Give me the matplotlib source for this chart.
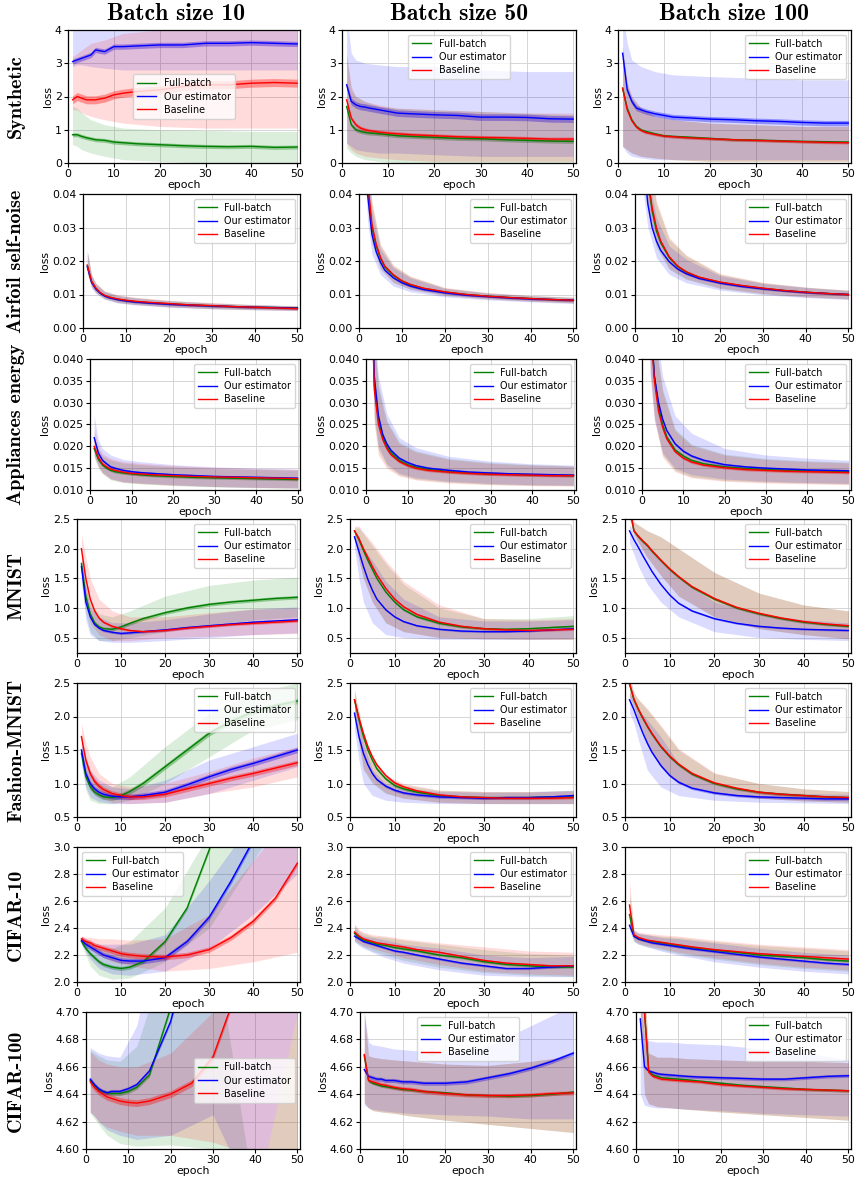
#!/usr/bin/env python3
"""Loss curves: full-batch vs our estimator vs baseline, 7 datasets x 3 batch sizes."""

import matplotlib
matplotlib.use("Agg")
import matplotlib.pyplot as plt
from matplotlib.ticker import FormatStrFormatter
import numpy as np

GREEN = "green"
BLUE = "blue"
RED = "red"

BATCH_SIZES = [10, 50, 100]
DATASETS = ["Synthetic", "Airfoil self-noise", "Appliances energy", "MNIST",
            "Fashion-MNIST", "CIFAR-10", "CIFAR-100"]
PREFIXES = ["SYN", "AIR", "APP", "MNI", "FAS", "C10", "C100"]
SERIES_LABELS = ["Full-batch", "Our estimator", "Baseline"]

# epochs where the mean curves were read, and (coarser) where the spread was read
E = [1, 2, 3, 4, 5, 6, 8, 10, 12, 15, 20, 25, 30, 35, 40, 45, 50]
EB = [1, 2, 3, 5, 8, 12, 20, 30, 40, 50]

# ---------------- Synthetic ----------------
SYN10_FULL = [0.85, 0.85, 0.80, 0.76, 0.73, 0.70, 0.68, 0.63, 0.61, 0.58, 0.55, 0.52, 0.50, 0.49, 0.50, 0.47, 0.48]
SYN10_FULL_LO = [0.55, 0.50, 0.40, 0.30, 0.20, 0.10, 0.05, 0.0, 0.0, 0.0]
SYN10_FULL_HI = [1.70, 1.65, 1.50, 1.30, 1.15, 1.05, 1.00, 0.98, 0.95, 0.95]
SYN10_OURS = [3.05, 3.10, 3.15, 3.20, 3.25, 3.40, 3.35, 3.50, 3.50, 3.52, 3.55, 3.55, 3.60, 3.60, 3.62, 3.60, 3.58]
SYN10_OURS_LO = [2.90, 2.95, 2.95, 2.90, 2.85, 2.80, 2.80, 2.80, 2.80, 2.80]
SYN10_OURS_HI = [4.5, 4.5, 4.5, 4.5, 4.5, 4.5, 4.5, 4.5, 4.5, 4.5]
SYN10_BASE = [1.90, 2.00, 1.95, 1.90, 1.90, 1.90, 1.95, 2.05, 2.10, 2.15, 2.20, 2.30, 2.35, 2.35, 2.40, 2.42, 2.40]
SYN10_BASE_LO = [1.60, 1.60, 1.50, 1.40, 1.30, 1.20, 1.10, 1.05, 1.05, 1.05]
SYN10_BASE_HI = [3.20, 3.30, 3.40, 3.60, 3.70, 3.90, 4.00, 4.10, 4.10, 4.10]
SYN10_W = [0.06, 0.08, 0.12]

SYN50_FULL = [1.70, 1.15, 1.00, 0.95, 0.92, 0.90, 0.88, 0.85, 0.82, 0.80, 0.77, 0.74, 0.73, 0.70, 0.68, 0.66, 0.65]
SYN50_FULL_LO = [0.45, 0.30, 0.20, 0.10, 0.05, 0.0, 0.0, 0.0, 0.0, 0.0]
SYN50_FULL_HI = [3.20, 2.20, 2.00, 1.85, 1.70, 1.65, 1.60, 1.55, 1.50, 1.45]
SYN50_OURS = [2.35, 1.85, 1.75, 1.70, 1.68, 1.65, 1.60, 1.55, 1.50, 1.48, 1.45, 1.43, 1.38, 1.38, 1.37, 1.33, 1.32]
SYN50_OURS_LO = [0.60, 0.50, 0.40, 0.35, 0.30, 0.30, 0.25, 0.20, 0.20, 0.20]
SYN50_OURS_HI = [4.50, 3.30, 3.10, 3.00, 2.95, 2.90, 2.90, 2.80, 2.75, 2.75]
SYN50_BASE = [1.90, 1.35, 1.15, 1.05, 1.00, 0.97, 0.93, 0.90, 0.88, 0.85, 0.82, 0.79, 0.77, 0.76, 0.74, 0.72, 0.72]
SYN50_BASE_LO = [0.60, 0.40, 0.30, 0.20, 0.15, 0.10, 0.05, 0.05, 0.05, 0.05]
SYN50_BASE_HI = [3.30, 2.30, 2.00, 1.85, 1.75, 1.65, 1.60, 1.55, 1.50, 1.50]
SYN50_W = [0.06, 0.10, 0.06]

SYN100_FULL = [2.25, 1.65, 1.30, 1.10, 1.00, 0.95, 0.88, 0.82, 0.80, 0.78, 0.74, 0.70, 0.69, 0.67, 0.65, 0.64, 0.63]
SYN100_FULL_LO = [0.50, 0.40, 0.30, 0.20, 0.15, 0.10, 0.05, 0.05, 0.05, 0.05]
SYN100_FULL_HI = [3.50, 2.40, 2.00, 1.65, 1.40, 1.30, 1.20, 1.15, 1.10, 1.10]
SYN100_OURS = [3.30, 2.20, 1.85, 1.65, 1.60, 1.55, 1.48, 1.43, 1.38, 1.36, 1.32, 1.30, 1.27, 1.25, 1.22, 1.20, 1.20]
SYN100_OURS_LO = [0.50, 0.30, 0.20, 0.15, 0.10, 0.10, 0.10, 0.10, 0.10, 0.10]
SYN100_OURS_HI = [4.50, 3.60, 3.10, 2.90, 2.75, 2.65, 2.60, 2.55, 2.50, 2.50]
SYN100_BASE = [2.25, 1.60, 1.27, 1.08, 0.98, 0.92, 0.86, 0.81, 0.79, 0.76, 0.73, 0.70, 0.68, 0.66, 0.64, 0.62, 0.61]
SYN100_BASE_LO = [0.50, 0.40, 0.30, 0.20, 0.15, 0.10, 0.05, 0.05, 0.05, 0.05]
SYN100_BASE_HI = [3.40, 2.40, 2.00, 1.65, 1.40, 1.30, 1.20, 1.15, 1.10, 1.10]
SYN100_W = [0.04, 0.08, 0.04]

# ---------------- Airfoil self-noise ----------------
AIR10_FULL = [0.0185, 0.0138, 0.0118, 0.0105, 0.0097, 0.0092, 0.0086, 0.0082, 0.0079, 0.0076, 0.0072, 0.0069, 0.0066, 0.0064, 0.0062, 0.0061, 0.0060]
AIR10_FULL_LO = [0.0165, 0.0122, 0.0105, 0.0087, 0.0076, 0.0070, 0.0063, 0.0058, 0.0055, 0.0053]
AIR10_FULL_HI = [0.0230, 0.0158, 0.0133, 0.0110, 0.0098, 0.0091, 0.0082, 0.0075, 0.0070, 0.0067]
AIR10_OURS = [0.0183, 0.0136, 0.0116, 0.0104, 0.0096, 0.0091, 0.0085, 0.0081, 0.0078, 0.0075, 0.0071, 0.0068, 0.0066, 0.0064, 0.0062, 0.0061, 0.0059]
AIR10_OURS_LO = [0.0163, 0.0120, 0.0103, 0.0086, 0.0075, 0.0069, 0.0062, 0.0057, 0.0054, 0.0052]
AIR10_OURS_HI = [0.0228, 0.0156, 0.0131, 0.0109, 0.0097, 0.0090, 0.0081, 0.0074, 0.0069, 0.0066]
AIR10_BASE = [0.0188, 0.0140, 0.0119, 0.0106, 0.0098, 0.0093, 0.0087, 0.0083, 0.0080, 0.0077, 0.0073, 0.0069, 0.0067, 0.0064, 0.0062, 0.0060, 0.0058]
AIR10_BASE_LO = [0.0166, 0.0123, 0.0106, 0.0088, 0.0077, 0.0071, 0.0063, 0.0058, 0.0055, 0.0052]
AIR10_BASE_HI = [0.0232, 0.0160, 0.0135, 0.0111, 0.0099, 0.0092, 0.0083, 0.0076, 0.0070, 0.0066]
AIR10_W = [0.0003, 0.0003, 0.0003]

AIR50_FULL = [0.070, 0.043, 0.030, 0.0245, 0.0208, 0.0182, 0.0157, 0.0140, 0.0129, 0.0118, 0.0107, 0.0100, 0.0095, 0.0091, 0.0088, 0.0085, 0.0083]
AIR50_FULL_LO = [0.060, 0.036, 0.025, 0.0175, 0.0135, 0.0115, 0.0097, 0.0087, 0.0080, 0.0075]
AIR50_FULL_HI = [0.085, 0.052, 0.037, 0.0245, 0.0185, 0.0153, 0.0120, 0.0105, 0.0097, 0.0092]
AIR50_OURS = [0.065, 0.040, 0.028, 0.0228, 0.0196, 0.0173, 0.0150, 0.0135, 0.0125, 0.0115, 0.0105, 0.0098, 0.0094, 0.0090, 0.0087, 0.0085, 0.0083]
AIR50_OURS_LO = [0.055, 0.032, 0.022, 0.0160, 0.0125, 0.0108, 0.0093, 0.0084, 0.0078, 0.0073]
AIR50_OURS_HI = [0.080, 0.049, 0.035, 0.0235, 0.0180, 0.0150, 0.0118, 0.0104, 0.0096, 0.0091]
AIR50_BASE = [0.072, 0.044, 0.031, 0.0250, 0.0211, 0.0185, 0.0159, 0.0141, 0.0130, 0.0119, 0.0108, 0.0100, 0.0095, 0.0091, 0.0088, 0.0085, 0.0083]
AIR50_BASE_LO = [0.061, 0.037, 0.026, 0.0178, 0.0137, 0.0116, 0.0098, 0.0087, 0.0080, 0.0075]
AIR50_BASE_HI = [0.087, 0.053, 0.038, 0.0250, 0.0188, 0.0155, 0.0121, 0.0106, 0.0097, 0.0092]
AIR50_W = [0.0003, 0.0003, 0.0003]

AIR100_FULL = [0.100, 0.060, 0.044, 0.035, 0.029, 0.0255, 0.0210, 0.0183, 0.0167, 0.0151, 0.0136, 0.0126, 0.0118, 0.0112, 0.0107, 0.0103, 0.0100]
AIR100_FULL_LO = [0.085, 0.050, 0.036, 0.024, 0.0175, 0.0145, 0.0118, 0.0102, 0.0093, 0.0087]
AIR100_FULL_HI = [0.120, 0.072, 0.054, 0.037, 0.0265, 0.0215, 0.0160, 0.0135, 0.0122, 0.0113]
AIR100_OURS = [0.085, 0.050, 0.037, 0.030, 0.026, 0.0232, 0.0198, 0.0176, 0.0162, 0.0148, 0.0134, 0.0124, 0.0117, 0.0111, 0.0106, 0.0103, 0.0100]
AIR100_OURS_LO = [0.070, 0.040, 0.030, 0.021, 0.0160, 0.0135, 0.0113, 0.0099, 0.0091, 0.0085]
AIR100_OURS_HI = [0.105, 0.062, 0.046, 0.033, 0.0245, 0.0205, 0.0156, 0.0133, 0.0121, 0.0112]
AIR100_BASE = [0.105, 0.062, 0.045, 0.036, 0.030, 0.0260, 0.0213, 0.0185, 0.0168, 0.0152, 0.0137, 0.0127, 0.0119, 0.0112, 0.0107, 0.0103, 0.0100]
AIR100_BASE_LO = [0.088, 0.051, 0.037, 0.025, 0.0178, 0.0147, 0.0119, 0.0103, 0.0093, 0.0087]
AIR100_BASE_HI = [0.125, 0.074, 0.055, 0.038, 0.0270, 0.0218, 0.0162, 0.0136, 0.0122, 0.0113]
AIR100_W = [0.0003, 0.0003, 0.0003]

# ---------------- Appliances energy ----------------
APP10_FULL = [0.0195, 0.0170, 0.0157, 0.0150, 0.0145, 0.0142, 0.0139, 0.0137, 0.0135, 0.0133, 0.0131, 0.0129, 0.0128, 0.0127, 0.0126, 0.0125, 0.0124]
APP10_FULL_LO = [0.0175, 0.0150, 0.0137, 0.0123, 0.0117, 0.0114, 0.0110, 0.0107, 0.0105, 0.0104]
APP10_FULL_HI = [0.0215, 0.0192, 0.0178, 0.0168, 0.0162, 0.0158, 0.0153, 0.0149, 0.0147, 0.0145]
APP10_OURS = [0.0220, 0.0185, 0.0168, 0.0160, 0.0153, 0.0150, 0.0145, 0.0142, 0.0140, 0.0138, 0.0135, 0.0133, 0.0131, 0.0130, 0.0129, 0.0128, 0.0127]
APP10_OURS_LO = [0.0180, 0.0155, 0.0140, 0.0126, 0.0119, 0.0116, 0.0112, 0.0108, 0.0106, 0.0105]
APP10_OURS_HI = [0.0270, 0.0215, 0.0195, 0.0180, 0.0170, 0.0165, 0.0158, 0.0153, 0.0150, 0.0148]
APP10_BASE = [0.0200, 0.0175, 0.0160, 0.0153, 0.0148, 0.0145, 0.0141, 0.0138, 0.0137, 0.0135, 0.0133, 0.0131, 0.0130, 0.0129, 0.0128, 0.0127, 0.0126]
APP10_BASE_LO = [0.0178, 0.0153, 0.0139, 0.0125, 0.0118, 0.0115, 0.0111, 0.0108, 0.0106, 0.0104]
APP10_BASE_HI = [0.0240, 0.0200, 0.0183, 0.0172, 0.0165, 0.0161, 0.0156, 0.0152, 0.0149, 0.0147]
APP10_W = [0.0003, 0.0003, 0.0003]

APP50_FULL = [0.070, 0.034, 0.026, 0.0222, 0.0200, 0.0185, 0.0168, 0.0158, 0.0152, 0.0147, 0.0142, 0.0139, 0.0137, 0.0136, 0.0135, 0.0134, 0.0133]
APP50_FULL_LO = [0.060, 0.026, 0.019, 0.0155, 0.0135, 0.0125, 0.0118, 0.0113, 0.0111, 0.0110]
APP50_FULL_HI = [0.085, 0.045, 0.034, 0.0260, 0.0210, 0.0190, 0.0172, 0.0163, 0.0158, 0.0155]
APP50_OURS = [0.072, 0.036, 0.027, 0.0228, 0.0206, 0.0191, 0.0173, 0.0163, 0.0156, 0.0150, 0.0145, 0.0141, 0.0139, 0.0137, 0.0136, 0.0135, 0.0134]
APP50_OURS_LO = [0.060, 0.027, 0.020, 0.0160, 0.0138, 0.0128, 0.0120, 0.0115, 0.0112, 0.0111]
APP50_OURS_HI = [0.088, 0.047, 0.036, 0.0275, 0.0220, 0.0197, 0.0177, 0.0166, 0.0160, 0.0157]
APP50_BASE = [0.068, 0.033, 0.025, 0.0216, 0.0195, 0.0181, 0.0165, 0.0156, 0.0150, 0.0145, 0.0141, 0.0138, 0.0136, 0.0135, 0.0134, 0.0133, 0.0133]
APP50_BASE_LO = [0.058, 0.025, 0.018, 0.0150, 0.0132, 0.0123, 0.0116, 0.0112, 0.0110, 0.0109]
APP50_BASE_HI = [0.083, 0.044, 0.033, 0.0255, 0.0206, 0.0187, 0.0170, 0.0161, 0.0157, 0.0154]
APP50_W = [0.0003, 0.0003, 0.0003]

APP100_FULL = [0.100, 0.050, 0.036, 0.029, 0.0250, 0.0222, 0.0192, 0.0178, 0.0168, 0.0160, 0.0153, 0.0149, 0.0147, 0.0145, 0.0144, 0.0143, 0.0142]
APP100_FULL_LO = [0.080, 0.038, 0.027, 0.0180, 0.0145, 0.0130, 0.0122, 0.0118, 0.0116, 0.0114]
APP100_FULL_HI = [0.120, 0.062, 0.046, 0.0330, 0.0240, 0.0205, 0.0182, 0.0172, 0.0167, 0.0164]
APP100_OURS = [0.095, 0.050, 0.036, 0.030, 0.0262, 0.0236, 0.0206, 0.0189, 0.0178, 0.0168, 0.0158, 0.0153, 0.0150, 0.0148, 0.0146, 0.0145, 0.0144]
APP100_OURS_LO = [0.075, 0.036, 0.026, 0.0185, 0.0150, 0.0135, 0.0125, 0.0120, 0.0117, 0.0115]
APP100_OURS_HI = [0.120, 0.065, 0.050, 0.0360, 0.0270, 0.0230, 0.0195, 0.0180, 0.0173, 0.0168]
APP100_BASE = [0.100, 0.049, 0.035, 0.028, 0.0243, 0.0217, 0.0188, 0.0173, 0.0164, 0.0157, 0.0151, 0.0147, 0.0145, 0.0143, 0.0142, 0.0141, 0.0140]
APP100_BASE_LO = [0.080, 0.037, 0.026, 0.0175, 0.0142, 0.0128, 0.0120, 0.0116, 0.0114, 0.0112]
APP100_BASE_HI = [0.120, 0.061, 0.045, 0.0325, 0.0236, 0.0202, 0.0180, 0.0170, 0.0165, 0.0162]
APP100_W = [0.0003, 0.0003, 0.0003]

# ---------------- MNIST ----------------
MNI10_FULL = [1.75, 1.20, 0.90, 0.75, 0.68, 0.65, 0.64, 0.68, 0.74, 0.82, 0.92, 1.00, 1.06, 1.10, 1.13, 1.16, 1.18]
MNI10_FULL_LO = [1.40, 0.90, 0.60, 0.45, 0.45, 0.50, 0.60, 0.70, 0.80, 0.85]
MNI10_FULL_HI = [1.90, 1.40, 1.10, 0.90, 0.85, 0.95, 1.20, 1.38, 1.47, 1.52]
MNI10_OURS = [1.70, 1.10, 0.85, 0.72, 0.66, 0.62, 0.59, 0.57, 0.58, 0.60, 0.63, 0.67, 0.70, 0.73, 0.76, 0.78, 0.80]
MNI10_OURS_LO = [1.50, 0.80, 0.55, 0.45, 0.42, 0.42, 0.45, 0.50, 0.55, 0.58]
MNI10_OURS_HI = [1.90, 1.35, 1.00, 0.85, 0.75, 0.75, 0.80, 0.90, 0.98, 1.02]
MNI10_BASE = [2.00, 1.50, 1.15, 0.95, 0.83, 0.76, 0.69, 0.65, 0.62, 0.60, 0.62, 0.66, 0.69, 0.72, 0.74, 0.76, 0.78]
MNI10_BASE_LO = [1.70, 1.10, 0.75, 0.55, 0.45, 0.45, 0.50, 0.52, 0.55, 0.57]
MNI10_BASE_HI = [2.25, 1.85, 1.50, 1.15, 0.95, 0.85, 0.85, 0.92, 0.98, 1.00]
MNI10_W = [0.03, 0.02, 0.02]

MNI50_FULL = [2.30, 2.15, 1.97, 1.80, 1.65, 1.50, 1.27, 1.10, 0.97, 0.85, 0.74, 0.68, 0.65, 0.64, 0.65, 0.67, 0.69]
MNI50_FULL_LO = [2.20, 1.80, 1.50, 1.10, 0.75, 0.60, 0.50, 0.48, 0.47, 0.47]
MNI50_FULL_HI = [2.35, 2.35, 2.25, 2.05, 1.75, 1.40, 1.00, 0.82, 0.82, 0.87]
MNI50_OURS = [2.20, 1.95, 1.70, 1.48, 1.30, 1.15, 0.97, 0.85, 0.77, 0.70, 0.64, 0.61, 0.60, 0.60, 0.61, 0.63, 0.65]
MNI50_OURS_LO = [2.00, 1.50, 1.10, 0.75, 0.55, 0.50, 0.47, 0.47, 0.47, 0.48]
MNI50_OURS_HI = [2.30, 2.20, 2.00, 1.80, 1.45, 1.15, 0.85, 0.78, 0.78, 0.80]
MNI50_BASE = [2.30, 2.17, 2.00, 1.85, 1.70, 1.56, 1.33, 1.15, 1.02, 0.89, 0.76, 0.69, 0.65, 0.63, 0.62, 0.63, 0.64]
MNI50_BASE_LO = [2.20, 1.80, 1.50, 1.10, 0.75, 0.60, 0.50, 0.48, 0.47, 0.47]
MNI50_BASE_HI = [2.38, 2.38, 2.28, 2.10, 1.80, 1.45, 1.05, 0.82, 0.80, 0.82]
MNI50_W = [0.02, 0.015, 0.02]

MNI100_FULL = [2.70, 2.30, 2.20, 2.12, 2.05, 1.96, 1.80, 1.65, 1.52, 1.35, 1.15, 1.00, 0.90, 0.82, 0.76, 0.72, 0.69]
MNI100_FULL_LO = [2.50, 2.25, 2.10, 1.85, 1.55, 1.20, 0.85, 0.65, 0.55, 0.48]
MNI100_FULL_HI = [2.90, 2.45, 2.40, 2.30, 2.20, 2.00, 1.60, 1.25, 1.05, 0.95]
MNI100_OURS = [2.30, 2.15, 2.02, 1.88, 1.75, 1.62, 1.40, 1.22, 1.08, 0.95, 0.82, 0.74, 0.69, 0.66, 0.64, 0.63, 0.62]
MNI100_OURS_LO = [2.10, 1.90, 1.70, 1.40, 1.10, 0.85, 0.60, 0.50, 0.47, 0.45]
MNI100_OURS_HI = [2.40, 2.30, 2.20, 2.05, 1.80, 1.50, 1.10, 0.90, 0.80, 0.75]
MNI100_BASE = [2.72, 2.30, 2.21, 2.13, 2.06, 1.97, 1.81, 1.66, 1.53, 1.36, 1.16, 1.01, 0.91, 0.83, 0.77, 0.73, 0.70]
MNI100_BASE_LO = [2.50, 2.25, 2.10, 1.85, 1.55, 1.20, 0.85, 0.65, 0.55, 0.48]
MNI100_BASE_HI = [2.90, 2.45, 2.40, 2.30, 2.20, 2.00, 1.60, 1.25, 1.05, 0.95]
MNI100_W = [0.02, 0.015, 0.02]

# ---------------- Fashion-MNIST ----------------
FAS10_FULL = [1.45, 1.10, 0.95, 0.87, 0.83, 0.80, 0.79, 0.82, 0.88, 1.00, 1.25, 1.50, 1.75, 1.93, 2.07, 2.16, 2.23]
FAS10_FULL_LO = [1.30, 0.90, 0.75, 0.70, 0.70, 0.75, 1.00, 1.40, 1.80, 1.95]
FAS10_FULL_HI = [1.60, 1.30, 1.15, 1.00, 0.95, 1.10, 1.55, 2.05, 2.35, 2.50]
FAS10_OURS = [1.50, 1.15, 1.00, 0.92, 0.87, 0.84, 0.81, 0.80, 0.80, 0.82, 0.87, 0.98, 1.10, 1.21, 1.30, 1.40, 1.50]
FAS10_OURS_LO = [1.30, 0.95, 0.80, 0.73, 0.70, 0.70, 0.72, 0.85, 1.05, 1.25]
FAS10_OURS_HI = [1.65, 1.35, 1.20, 1.05, 0.95, 0.92, 1.05, 1.35, 1.55, 1.75]
FAS10_BASE = [1.70, 1.35, 1.15, 1.03, 0.96, 0.91, 0.85, 0.82, 0.80, 0.80, 0.84, 0.92, 1.00, 1.08, 1.15, 1.23, 1.31]
FAS10_BASE_LO = [1.45, 1.10, 0.90, 0.80, 0.72, 0.70, 0.72, 0.85, 0.95, 1.10]
FAS10_BASE_HI = [1.90, 1.60, 1.40, 1.15, 1.00, 0.95, 1.00, 1.18, 1.38, 1.55]
FAS10_W = [0.04, 0.04, 0.04]

FAS50_FULL = [2.25, 1.95, 1.70, 1.50, 1.35, 1.22, 1.07, 0.97, 0.92, 0.87, 0.82, 0.80, 0.79, 0.79, 0.79, 0.80, 0.80]
FAS50_FULL_LO = [2.10, 1.60, 1.20, 1.00, 0.85, 0.78, 0.72, 0.70, 0.70, 0.70]
FAS50_FULL_HI = [2.40, 2.05, 1.70, 1.35, 1.10, 0.98, 0.90, 0.88, 0.88, 0.90]
FAS50_OURS = [2.05, 1.70, 1.45, 1.28, 1.15, 1.06, 0.96, 0.90, 0.86, 0.83, 0.80, 0.79, 0.78, 0.79, 0.79, 0.80, 0.82]
FAS50_OURS_LO = [1.80, 1.35, 1.00, 0.82, 0.75, 0.72, 0.70, 0.70, 0.70, 0.70]
FAS50_OURS_HI = [2.30, 1.95, 1.60, 1.20, 1.00, 0.93, 0.88, 0.87, 0.87, 0.90]
FAS50_BASE = [2.25, 1.98, 1.75, 1.55, 1.40, 1.28, 1.12, 1.01, 0.95, 0.89, 0.83, 0.80, 0.79, 0.78, 0.78, 0.78, 0.79]
FAS50_BASE_LO = [2.10, 1.62, 1.22, 1.02, 0.86, 0.78, 0.72, 0.70, 0.70, 0.70]
FAS50_BASE_HI = [2.40, 2.08, 1.75, 1.40, 1.12, 1.00, 0.90, 0.88, 0.88, 0.89]
FAS50_W = [0.02, 0.02, 0.02]

FAS100_FULL = [2.48, 2.25, 2.10, 1.97, 1.85, 1.74, 1.55, 1.40, 1.28, 1.14, 1.00, 0.92, 0.87, 0.84, 0.82, 0.80, 0.79]
FAS100_FULL_LO = [2.30, 2.15, 1.95, 1.60, 1.25, 1.00, 0.85, 0.78, 0.74, 0.72]
FAS100_FULL_HI = [2.60, 2.35, 2.25, 2.10, 1.85, 1.50, 1.15, 1.00, 0.92, 0.88]
FAS100_OURS = [2.25, 2.10, 1.92, 1.75, 1.60, 1.47, 1.27, 1.12, 1.02, 0.93, 0.86, 0.82, 0.80, 0.79, 0.78, 0.77, 0.77]
FAS100_OURS_LO = [2.05, 1.90, 1.65, 1.20, 0.95, 0.82, 0.75, 0.72, 0.71, 0.70]
FAS100_OURS_HI = [2.35, 2.25, 2.10, 1.95, 1.70, 1.30, 0.98, 0.88, 0.85, 0.84]
FAS100_BASE = [2.50, 2.26, 2.11, 1.98, 1.86, 1.75, 1.56, 1.41, 1.29, 1.15, 1.01, 0.93, 0.87, 0.84, 0.82, 0.80, 0.79]
FAS100_BASE_LO = [2.30, 2.15, 1.95, 1.60, 1.25, 1.00, 0.85, 0.78, 0.74, 0.72]
FAS100_BASE_HI = [2.62, 2.36, 2.26, 2.12, 1.87, 1.52, 1.16, 1.00, 0.92, 0.88]
FAS100_W = [0.02, 0.02, 0.02]

# ---------------- CIFAR-10 ----------------
C1010_FULL = [2.30, 2.25, 2.21, 2.18, 2.15, 2.13, 2.11, 2.10, 2.11, 2.15, 2.30, 2.55, 2.98, 3.50, 4.00, 4.50, 5.00]
C1010_FULL_LO = [2.28, 2.20, 2.12, 2.05, 2.02, 2.03, 2.15, 2.40, 2.90, 3.40]
C1010_FULL_HI = [2.33, 2.30, 2.28, 2.25, 2.25, 2.30, 2.55, 3.10, 3.60, 4.00]
C1010_OURS = [2.31, 2.28, 2.26, 2.24, 2.22, 2.20, 2.18, 2.16, 2.155, 2.155, 2.18, 2.30, 2.48, 2.75, 3.05, 3.40, 3.80]
C1010_OURS_LO = [2.28, 2.22, 2.17, 2.10, 2.06, 2.05, 2.08, 2.25, 2.50, 2.80]
C1010_OURS_HI = [2.34, 2.32, 2.30, 2.28, 2.28, 2.28, 2.35, 2.75, 3.20, 3.60]
C1010_BASE = [2.32, 2.30, 2.29, 2.27, 2.26, 2.25, 2.23, 2.21, 2.20, 2.19, 2.185, 2.20, 2.24, 2.33, 2.45, 2.62, 2.88]
C1010_BASE_LO = [2.30, 2.27, 2.24, 2.20, 2.15, 2.12, 2.08, 2.10, 2.15, 2.22]
C1010_BASE_HI = [2.34, 2.33, 2.33, 2.32, 2.32, 2.31, 2.32, 2.50, 2.90, 3.30]
C1010_W = [0.015, 0.02, 0.02]

C1050_FULL = [2.36, 2.33, 2.31, 2.30, 2.29, 2.28, 2.27, 2.255, 2.245, 2.23, 2.20, 2.18, 2.15, 2.13, 2.12, 2.11, 2.11]
C1050_FULL_LO = [2.30, 2.28, 2.26, 2.23, 2.20, 2.16, 2.11, 2.07, 2.05, 2.04]
C1050_FULL_HI = [2.42, 2.38, 2.36, 2.34, 2.33, 2.31, 2.28, 2.24, 2.21, 2.20]
C1050_OURS = [2.34, 2.32, 2.30, 2.29, 2.28, 2.27, 2.25, 2.23, 2.22, 2.20, 2.17, 2.14, 2.12, 2.10, 2.10, 2.11, 2.12]
C1050_OURS_LO = [2.30, 2.27, 2.25, 2.22, 2.18, 2.14, 2.09, 2.05, 2.04, 2.04]
C1050_OURS_HI = [2.40, 2.36, 2.34, 2.33, 2.31, 2.28, 2.25, 2.20, 2.18, 2.19]
C1050_BASE = [2.37, 2.34, 2.32, 2.31, 2.30, 2.29, 2.28, 2.27, 2.26, 2.24, 2.22, 2.19, 2.16, 2.14, 2.13, 2.12, 2.12]
C1050_BASE_LO = [2.31, 2.29, 2.27, 2.25, 2.22, 2.18, 2.13, 2.08, 2.06, 2.05]
C1050_BASE_HI = [2.43, 2.39, 2.37, 2.35, 2.34, 2.32, 2.29, 2.26, 2.23, 2.22]
C1050_W = [0.008, 0.008, 0.008]

C10100_FULL = [2.50, 2.34, 2.32, 2.31, 2.305, 2.30, 2.29, 2.28, 2.27, 2.255, 2.235, 2.22, 2.20, 2.19, 2.18, 2.165, 2.155]
C10100_FULL_LO = [2.40, 2.30, 2.28, 2.26, 2.24, 2.21, 2.17, 2.13, 2.10, 2.08]
C10100_FULL_HI = [2.65, 2.38, 2.36, 2.35, 2.34, 2.33, 2.30, 2.27, 2.25, 2.23]
C10100_OURS = [2.42, 2.34, 2.32, 2.31, 2.30, 2.29, 2.28, 2.27, 2.26, 2.245, 2.225, 2.205, 2.185, 2.17, 2.155, 2.14, 2.13]
C10100_OURS_LO = [2.38, 2.30, 2.28, 2.26, 2.23, 2.20, 2.15, 2.11, 2.08, 2.06]
C10100_OURS_HI = [2.46, 2.38, 2.36, 2.35, 2.33, 2.32, 2.29, 2.25, 2.22, 2.20]
C10100_BASE = [2.57, 2.35, 2.33, 2.32, 2.31, 2.305, 2.295, 2.285, 2.275, 2.26, 2.24, 2.225, 2.21, 2.20, 2.19, 2.18, 2.17]
C10100_BASE_LO = [2.42, 2.31, 2.29, 2.27, 2.25, 2.22, 2.18, 2.14, 2.11, 2.09]
C10100_BASE_HI = [2.75, 2.39, 2.37, 2.36, 2.35, 2.34, 2.31, 2.28, 2.26, 2.24]
C10100_W = [0.008, 0.008, 0.008]

# ---------------- CIFAR-100 ----------------
C10010_FULL = [4.650, 4.646, 4.643, 4.642, 4.641, 4.6405, 4.6405, 4.642, 4.645, 4.654, 4.703, 4.75, 4.80, 4.85, 4.90, 4.95, 5.00]
C10010_FULL_LO = [4.626, 4.622, 4.618, 4.610, 4.604, 4.602, 4.603, 4.600, 4.595, 4.580]
C10010_FULL_HI = [4.672, 4.670, 4.668, 4.665, 4.664, 4.675, 4.750, 4.760, 4.560, 4.700]
C10010_OURS = [4.651, 4.647, 4.644, 4.642, 4.641, 4.642, 4.642, 4.644, 4.647, 4.657, 4.693, 4.75, 4.80, 4.85, 4.90, 4.95, 5.00]
C10010_OURS_LO = [4.627, 4.624, 4.620, 4.614, 4.610, 4.607, 4.610, 4.625, 4.560, 4.700]
C10010_OURS_HI = [4.674, 4.672, 4.670, 4.668, 4.667, 4.690, 4.800, 4.900, 5.000, 5.100]
C10010_BASE = [4.649, 4.645, 4.642, 4.640, 4.638, 4.637, 4.635, 4.634, 4.6335, 4.635, 4.640, 4.648, 4.667, 4.710, 4.75, 4.80, 4.85]
C10010_BASE_LO = [4.627, 4.624, 4.620, 4.616, 4.613, 4.610, 4.610, 4.605, 4.595, 4.590]
C10010_BASE_HI = [4.671, 4.668, 4.665, 4.662, 4.660, 4.660, 4.670, 4.700, 4.750, 4.800]
C10010_W = [0.0015, 0.0015, 0.0025]

C10050_FULL = [4.668, 4.650, 4.648, 4.647, 4.646, 4.6455, 4.6445, 4.6435, 4.643, 4.642, 4.641, 4.6395, 4.639, 4.6385, 4.639, 4.640, 4.6415]
C10050_FULL_LO = [4.634, 4.630, 4.628, 4.627, 4.626, 4.624, 4.621, 4.618, 4.615, 4.612]
C10050_FULL_HI = [4.700, 4.668, 4.667, 4.666, 4.665, 4.664, 4.662, 4.661, 4.664, 4.668]
C10050_OURS = [4.658, 4.653, 4.652, 4.651, 4.651, 4.650, 4.650, 4.649, 4.649, 4.648, 4.648, 4.649, 4.652, 4.655, 4.659, 4.664, 4.670]
C10050_OURS_LO = [4.632, 4.630, 4.629, 4.628, 4.627, 4.626, 4.625, 4.624, 4.622, 4.622]
C10050_OURS_HI = [4.700, 4.678, 4.676, 4.675, 4.673, 4.672, 4.670, 4.675, 4.690, 4.705]
C10050_BASE = [4.669, 4.650, 4.649, 4.648, 4.647, 4.6465, 4.645, 4.644, 4.6435, 4.642, 4.6405, 4.6395, 4.639, 4.639, 4.6395, 4.6405, 4.641]
C10050_BASE_LO = [4.634, 4.630, 4.628, 4.627, 4.626, 4.624, 4.621, 4.618, 4.615, 4.612]
C10050_BASE_HI = [4.700, 4.668, 4.667, 4.666, 4.665, 4.664, 4.662, 4.661, 4.664, 4.668]
C10050_W = [0.001, 0.0015, 0.0015]

C100100_FULL = [4.750, 4.700, 4.657, 4.654, 4.653, 4.652, 4.6515, 4.651, 4.6505, 4.6495, 4.648, 4.6465, 4.6455, 4.6445, 4.6435, 4.643, 4.6425]
C100100_FULL_LO = [4.700, 4.640, 4.633, 4.631, 4.630, 4.629, 4.627, 4.625, 4.623, 4.621]
C100100_FULL_HI = [4.800, 4.720, 4.670, 4.667, 4.667, 4.666, 4.665, 4.664, 4.664, 4.663]
C100100_OURS = [4.695, 4.660, 4.657, 4.656, 4.655, 4.6545, 4.654, 4.6535, 4.653, 4.6525, 4.652, 4.6515, 4.651, 4.651, 4.652, 4.653, 4.6535]
C100100_OURS_LO = [4.640, 4.632, 4.631, 4.630, 4.630, 4.629, 4.628, 4.626, 4.625, 4.624]
C100100_OURS_HI = [4.720, 4.680, 4.679, 4.678, 4.678, 4.677, 4.676, 4.673, 4.670, 4.665]
C100100_BASE = [4.750, 4.700, 4.656, 4.653, 4.652, 4.651, 4.6505, 4.650, 4.6495, 4.649, 4.647, 4.646, 4.645, 4.644, 4.6435, 4.643, 4.6425]
C100100_BASE_LO = [4.700, 4.640, 4.633, 4.631, 4.630, 4.629, 4.627, 4.625, 4.623, 4.621]
C100100_BASE_HI = [4.800, 4.720, 4.670, 4.667, 4.667, 4.666, 4.665, 4.664, 4.664, 4.663]
C100100_W = [0.001, 0.0012, 0.001]

# ---------------- layout (pixels in a 863x1183 canvas) ----------------
FIG_W, FIG_H = 863, 1183
ROW_TOP = [30, 194, 359, 519, 683, 847, 1012]
ROW_BOTTOM = [163, 328, 490, 653, 817, 982, 1149]
ROW_LEFT = [
    [68, 342, 618],
    [83, 359, 635],
    [90, 366, 642],
    [77, 350, 625],
    [77, 350, 625],
    [77, 350, 625],
    [86, 360, 636],
]
COL_RIGHT = [300, 576, 851]
TITLE_X = [176, 459, 734]

ROW_YLIM = [(0, 4), (0, 0.04), (0.01, 0.04), (0.24, 2.5), (0.5, 2.5), (2.0, 3.0), (4.60, 4.70)]
ROW_YTICKS = [
    np.arange(0, 4.01, 1),
    np.arange(0, 0.0401, 0.01),
    np.arange(0.01, 0.04001, 0.005),
    np.arange(0.5, 2.51, 0.5),
    np.arange(0.5, 2.51, 0.5),
    np.arange(2.0, 3.01, 0.2),
    np.arange(4.60, 4.7001, 0.02),
]
ROW_FMT = ["%d", "%.2f", "%.3f", "%.1f", "%.1f", "%.1f", "%.2f"]
LEGEND_LOC = [
    ["center", "upper center", "upper right"],
    ["upper right"] * 3,
    ["upper right"] * 3,
    ["upper right"] * 3,
    ["upper right"] * 3,
    ["upper left", "upper right", "upper right"],
    ["center right", "upper center", "upper right"],
]

COLORS = [GREEN, BLUE, RED]
KEYS = ["FULL", "OURS", "BASE"]


def px_axes(fig, left, top, right, bottom):
    return fig.add_axes([left / FIG_W, 1 - bottom / FIG_H,
                         (right - left) / FIG_W, (bottom - top) / FIG_H])


def draw_panel(ax, prefix, row, col):
    data = globals()
    widths = data[f"{prefix}_W"]
    handles = []
    for key, color, label, w in zip(KEYS, COLORS, SERIES_LABELS, widths):
        mean = np.asarray(data[f"{prefix}_{key}"])
        lo = data[f"{prefix}_{key}_LO"]
        hi = data[f"{prefix}_{key}_HI"]
        ax.fill_between(EB, lo, hi, color=color, alpha=0.14, linewidth=0)
        ax.fill_between(E, mean - w, mean + w, color=color, alpha=0.35, linewidth=0)
        (line,) = ax.plot(E, mean, color=color, linewidth=1.0, label=label)
        handles.append(line)

    ax.set_xlim(0, 50.6)
    ax.set_ylim(*ROW_YLIM[row])
    ax.set_xticks([0, 10, 20, 30, 40, 50])
    ax.set_yticks(ROW_YTICKS[row])
    ax.yaxis.set_major_formatter(FormatStrFormatter(ROW_FMT[row]))
    ax.grid(True, color="#d5d5d5", linewidth=0.7)
    ax.set_axisbelow(True)
    ax.tick_params(labelsize=7.8, length=3, width=0.8, pad=1.5)
    for spine in ax.spines.values():
        spine.set_linewidth(0.9)
    ax.set_xlabel("epoch", fontsize=7.8, labelpad=0.5)
    ax.set_ylabel("loss", fontsize=7.8, labelpad=1.5)
    ax.legend(handles=handles, loc=LEGEND_LOC[row][col], fontsize=6.9,
              handlelength=2.0, borderpad=0.4, labelspacing=0.35,
              framealpha=0.8, edgecolor="#cccccc", fancybox=True)


def main():
    plt.rcParams.update({"font.family": "DejaVu Sans"})
    fig = plt.figure(figsize=(FIG_W / 100, FIG_H / 100), dpi=100)
    serif = ["cmb10", "DejaVu Serif"]

    for row, prefix in enumerate(PREFIXES):
        for col, bs in enumerate(BATCH_SIZES):
            ax = px_axes(fig, ROW_LEFT[row][col], ROW_TOP[row],
                         COL_RIGHT[col], ROW_BOTTOM[row])
            draw_panel(ax, f"{prefix}{bs}", row, col)
        yc = (ROW_TOP[row] + ROW_BOTTOM[row]) / 2
        fig.text(16 / FIG_W, 1 - yc / FIG_H, DATASETS[row], rotation=90,
                 ha="center", va="center", fontsize=14.5, family=serif)

    for col, bs in enumerate(BATCH_SIZES):
        fig.text(TITLE_X[col] / FIG_W, 1 - 14 / FIG_H, f"Batch size {bs}",
                 ha="center", va="center", fontsize=17, family=serif)

    fig.savefig("out.png", dpi=100)
    plt.close(fig)


if __name__ == "__main__":
    main()
